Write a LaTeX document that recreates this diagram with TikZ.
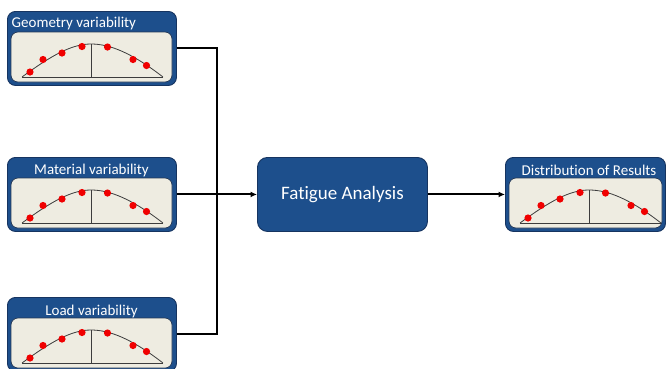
\documentclass[tikz,border=0pt]{standalone}
\usepackage{fontspec}
\setmainfont[Ligatures={NoCommon}]{Carlito}
\usetikzlibrary{arrows.meta}

\definecolor{boxblue}{RGB}{29,79,140}
\definecolor{boxedge}{RGB}{22,52,96}
\definecolor{panelfill}{RGB}{238,236,225}
\definecolor{paneledge}{RGB}{35,55,85}
\definecolor{curvegray}{RGB}{60,60,60}
\definecolor{dotred}{RGB}{240,0,0}

\tikzset{
  varbox/.style={draw=boxedge, fill=boxblue, line width=0.9pt, rounded corners=8pt,
    minimum width=169pt, minimum height=74pt, inner sep=0pt, anchor=north west},
  boxtitle/.style={text=white, font=\fontsize{15}{15}\selectfont, inner sep=0pt},
  mainbox/.style={draw=boxedge, fill=boxblue, line width=0.9pt, rounded corners=10pt,
    minimum width=170pt, minimum height=74pt, inner sep=0pt, anchor=north west,
    text=white, font=\fontsize{19}{19}\selectfont},
  link/.style={draw=black, line width=2pt},
  linkarrow/.style={link, -{Latex[length=6.5pt,width=6pt]}},
  innerpanel/.style={draw=paneledge, fill=panelfill, line width=0.7pt, rounded corners=7pt},
  curveline/.style={draw=curvegray, line width=0.8pt},
  dot/.style={fill=dotred},
  pics/distplot/.style={code={
    \path[innerpanel] (4,21) rectangle (#1,71);
    \draw[curveline] (15,66) .. controls (45,44) and (65,33) .. (84,33)
                             .. controls (103,33) and (125,42) .. (156,66);
    \draw[curveline] (15,66) -- (156,66);
    \draw[curveline] (84,33) -- (84,66);
    \foreach \px/\py in {23/61, 36/48.5, 55/42, 75/35.5, 100.5/36, 126/48.5, 139.5/54.5}
      \fill[dot] (\px,\py) circle (3.6pt);
  }}
}

\begin{document}
\begin{tikzpicture}[x=1pt, y=-1pt]
  \useasboundingbox (0,0) rectangle (666,368);
  \begin{scope}
    \clip (0,0) rectangle (666,368);

    % input boxes
    \node[varbox] (geo) at (7,11) {};
    \pic at (7,11) {distplot=165};
    \node[boxtitle, anchor=west] (geotitle) at (11.5,23.5) {Geometry variability};

    \node[varbox] (mat) at (7,157) {};
    \pic at (7,157) {distplot=165};
    \node[boxtitle] (mattitle) at (91.5,170.5) {Material variability};

    \node[varbox] (load) at (7,297) {};
    \pic at (7,297) {distplot=165};
    \node[boxtitle] (loadtitle) at (91.5,311.5) {Load variability};

    % analysis box
    \node[mainbox] (fatigue) at (257,157) {Fatigue Analysis};

    % output box
    \node[varbox, minimum width=160pt] (dist) at (505,157) {};
    \pic at (505,157) {distplot=157};
    \node[boxtitle] (disttitle) at (589,170.5) {Distribution of Results};

    % connectors
    \coordinate (merge) at (217,194);
    \draw[link] (geo.east) -| (merge);
    \draw[link] (load.east) -| (merge);
    \draw[linkarrow] (mat.east) -- (fatigue.west);
    \draw[linkarrow] (fatigue.east) -- (dist.west);
  \end{scope}
\end{tikzpicture}
\end{document}
